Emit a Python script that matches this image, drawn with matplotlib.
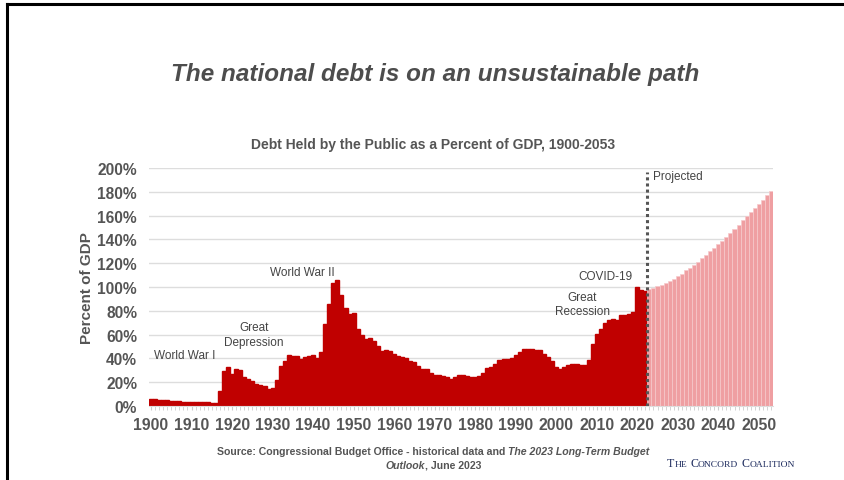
import numpy as np
import matplotlib
matplotlib.use('Agg')
import matplotlib.pyplot as plt
from matplotlib.ticker import MultipleLocator, FuncFormatter
from matplotlib.lines import Line2D

# ── Data: debt held by the public, % of GDP ───────────────────────────────────
hist_years = np.arange(1900, 2023)
hist_debt = [
    6.2, 5.6, 5.2, 4.9, 4.7, 4.5, 4.1, 3.8, 3.7, 3.7,          # 1900s
    3.5, 3.3, 3.2, 3.1, 3.0, 2.8, 2.2, 12.6, 29.4, 32.8,       # 1910s
    26.6, 31.1, 30.5, 24.4, 22.4, 20.7, 18.2, 17.4, 16.5, 14.0,  # 1920s
    15.4, 21.6, 33.3, 37.8, 42.6, 41.7, 41.7, 39.2, 41.5, 42.0,  # 1930s
    42.9, 40.6, 45.4, 68.6, 86.0, 103.4, 105.9, 93.5, 82.0, 77.3,  # 1940s
    78.0, 64.7, 59.9, 56.3, 57.0, 54.9, 50.1, 46.5, 47.0, 45.8,  # 1950s
    43.7, 42.2, 41.5, 40.0, 38.0, 36.7, 33.3, 31.1, 31.0, 27.5,  # 1960s
    26.4, 26.4, 25.0, 24.4, 22.7, 24.4, 26.0, 26.0, 25.5, 24.0,  # 1970s
    24.5, 25.5, 27.5, 31.9, 32.8, 35.6, 38.9, 39.8, 39.8, 40.3,  # 1980s
    43.1, 45.4, 47.6, 47.6, 47.6, 46.8, 46.8, 44.0, 41.2, 37.5,  # 1990s
    32.8, 30.8, 32.8, 34.7, 35.6, 35.6, 34.7, 34.7, 38.9, 51.8,  # 2000s
    60.8, 65.0, 70.0, 72.5, 73.4, 72.5, 76.2, 76.2, 77.3, 79.0,  # 2010s
    100.0, 97.5, 96.5,                                         # 2020-2022
]
proj_years = np.arange(2023, 2054)
proj_debt = [
    98.0, 99.0, 100.5, 102.0, 103.0, 105.0, 107.0, 109.0, 111.0, 114.0,
    116.0, 118.5, 121.0, 124.0, 127.0, 130.0, 133.0, 136.0, 139.0, 142.0,
    145.5, 149.0, 152.5, 156.0, 159.5, 163.0, 166.5, 170.0, 173.5, 177.0,
    181.0,
]

events = ['World War I', 'Great\nDepression', 'World War II',
          'Great\nRecession', 'COVID-19']
event_x = [1908.4, 1925.4, 1937.3, 2006.4, 2012.1]
event_y = [43, 60, 112.5, 86, 109]

DARK = '#555555'
W, H = 844, 481
plt.rcParams['font.family'] = ['Liberation Sans', 'DejaVu Sans']

fig = plt.figure(figsize=(W / 100, H / 100), dpi=100)
fig.patch.set_facecolor('white')

# ── Frame lines (top and left) ────────────────────────────────────────────────
fig.add_artist(Line2D([7 / W, 1], [1 - 5 / H, 1 - 5 / H], transform=fig.transFigure,
                      color='black', lw=2.2))
fig.add_artist(Line2D([7 / W, 7 / W], [0, 1 - 5 / H], transform=fig.transFigure,
                      color='black', lw=2.2))

fig.text(435 / W, 1 - 75 / H, 'The national debt is on an unsustainable path',
         ha='center', va='center', fontsize=17.5, fontweight='bold', fontstyle='italic',
         color='#4d4d4d')
fig.text(433 / W, 1 - 145 / H, 'Debt Held by the Public as a Percent of GDP, 1900-2053',
         ha='center', va='center', fontsize=10, fontweight='bold', color=DARK)

# ── Chart ─────────────────────────────────────────────────────────────────────
ax = fig.add_axes([149 / W, 1 - 407 / H, (773 - 149) / W, (407 - 169) / H])
ax.bar(hist_years, hist_debt, width=1.0, color='#C00000', edgecolor='#C00000',
       linewidth=1.0, zorder=2)
ax.bar(proj_years, proj_debt, width=1.0, color='#EF9FA2', edgecolor='#F6C9CB',
       linewidth=0.5, zorder=2)

split = hist_years[-1] + 0.5
ax.vlines(split, 0, 197, colors='#555555', linestyles=(0, (1, 1)), lw=2.2, zorder=3)
ax.text(split + 1.5, 193, 'Projected', ha='left', va='center', fontsize=8.5,
        color='#444444')

for label, x, y in zip(events, event_x, event_y):
    ax.text(x, y, label, ha='center', va='center', fontsize=8.5, color='#444444',
            linespacing=1.25)

ax.set_xlim(1899.5, 2053.5)
ax.set_ylim(0, 200)
ax.xaxis.set_major_locator(MultipleLocator(10))
ax.xaxis.set_minor_locator(MultipleLocator(1))
ax.yaxis.set_major_locator(MultipleLocator(20))
ax.yaxis.set_major_formatter(FuncFormatter(lambda v, _: f'{v:.0f}%'))
ax.grid(axis='y', color='#dddddd', lw=1.0, zorder=0)
ax.set_axisbelow(True)
for side in ['top', 'right', 'left']:
    ax.spines[side].set_visible(False)
ax.spines['bottom'].set_color('#dddddd')
ax.tick_params(axis='x', which='both', length=3, color='#cccccc', pad=5,
               labelsize=11.3, labelcolor=DARK)
ax.tick_params(axis='y', length=0, pad=8.6, labelsize=11.2, labelcolor=DARK)
for lbl in ax.get_xticklabels() + ax.get_yticklabels():
    lbl.set_fontweight('bold')

ax.text(-0.099, 0.5, 'Percent of GDP', transform=ax.transAxes, rotation=90,
        ha='center', va='center', fontsize=11, fontweight='bold', color=DARK)


# ── Footer with mixed styles ──────────────────────────────────────────────────
renderer = fig.canvas.get_renderer()


def text_width(s, **kw):
    t = fig.text(0, 0, s, **kw)
    w = t.get_window_extent(renderer).width
    t.remove()
    return w


def rich_line(parts, x_px, y_px, align='center'):
    """parts: list of (string, kwargs, gap_after_px)."""
    widths = [text_width(s, **kw) for s, kw, _ in parts]
    total = sum(widths) + sum(g for _, _, g in parts[:-1])
    x = x_px - total / 2 if align == 'center' else x_px
    for (s, kw, gap), w in zip(parts, widths):
        fig.text(x / W, 1 - y_px / H, s, ha='left', va='baseline', **kw)
        x += w + gap


src = dict(fontsize=7.6, fontweight='bold', color=DARK)
src_it = dict(src, fontstyle='italic')
sp = text_width('x x', **src) - text_width('xx', **src)
rich_line([('Source: Congressional Budget Office - historical data and', src, sp),
           ('The 2023 Long-Term Budget', src_it, 0)], 433, 455)
rich_line([('Outlook', src_it, 0), (', June 2023', src, 0)], 433, 469)

navy = '#1d2b5e'
big = dict(fontsize=8.6, family='Liberation Serif', color=navy)
small = dict(fontsize=6.8, family='Liberation Serif', color=navy)
gap = text_width('x x', **big) - text_width('xx', **big)
rich_line([('T', big, 0), ('HE', small, gap), ('C', big, 0), ('ONCORD', small, gap),
           ('C', big, 0), ('OALITION', small, 0)], 667, 467, align='left')

fig.savefig('out.png', dpi=100, facecolor='white')
